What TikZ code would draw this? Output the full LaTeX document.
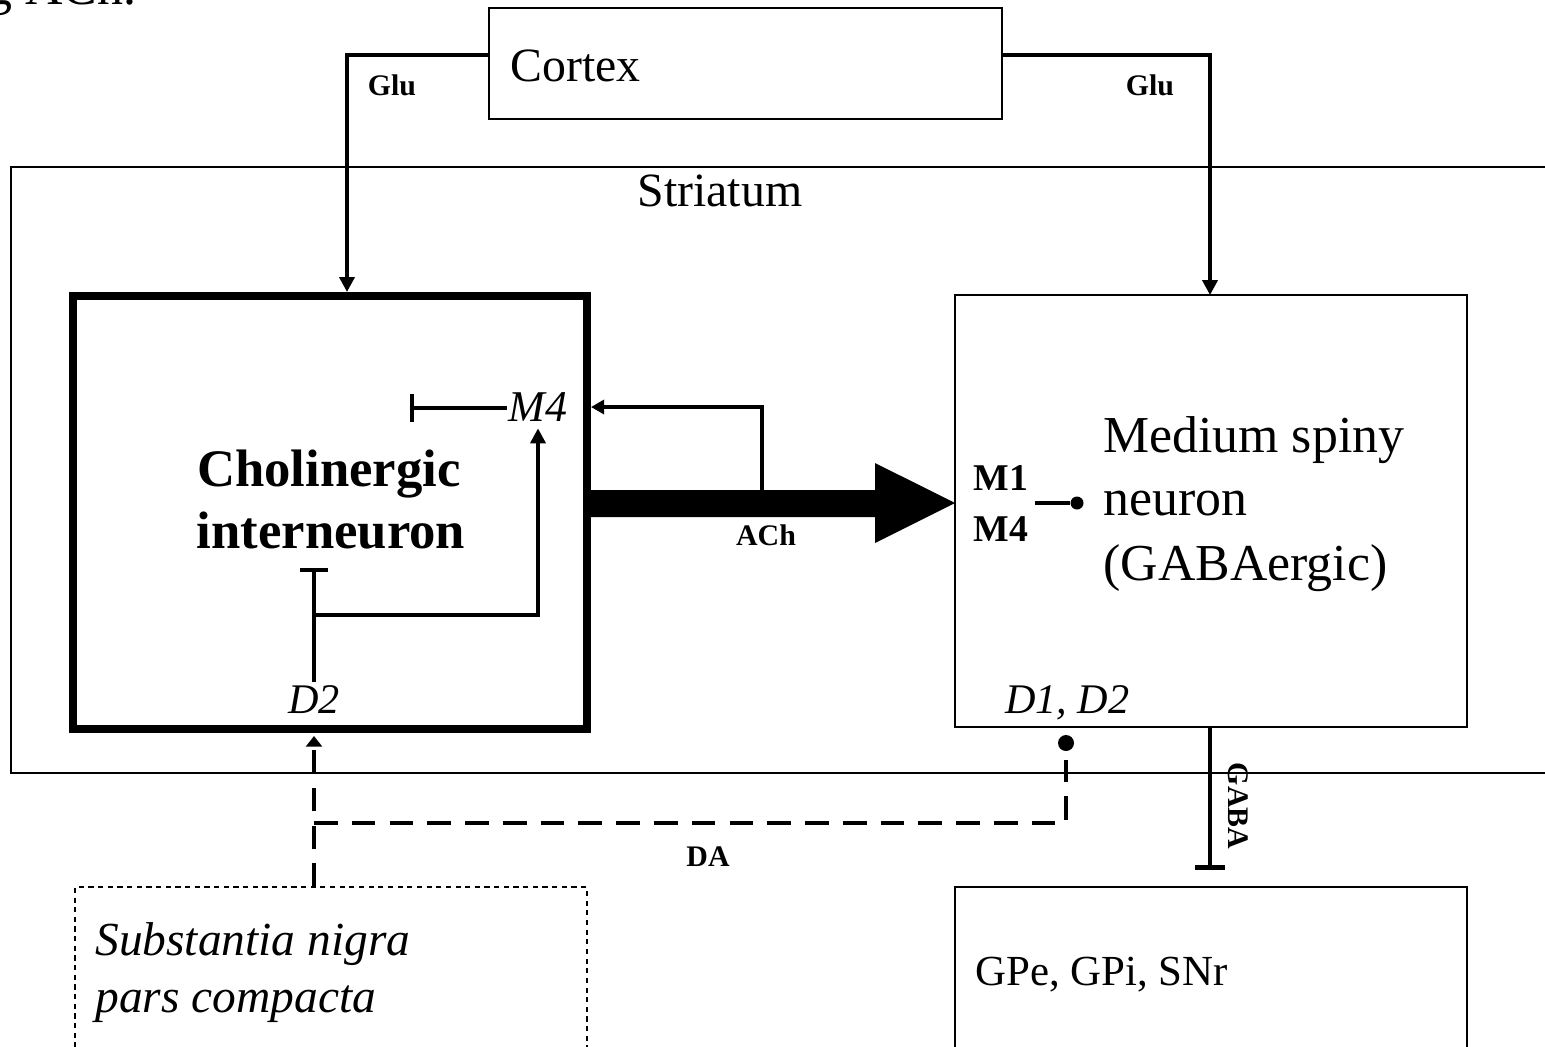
\documentclass[tikz,border=0pt]{standalone}
\usepackage{fontspec}
\setmainfont{Liberation Serif}
\usetikzlibrary{arrows.meta}
\newcommand\fpx[1]{\fontsize{#1}{#1}\selectfont}
\tikzset{
  box/.style={draw, line width=1.1pt, inner sep=0pt, outer sep=0pt},
  conn/.style={line width=2.1pt},
  da/.style={line width=2.8pt, dash pattern=on 13.5pt off 8pt},
  tri/.style={-{Triangle[length=8.5pt,width=8.5pt]}},
  inh/.style={-{Bar[width=16pt,line width=2.4pt]}},
  lbl/.style={inner sep=0pt, anchor=base},
  big/.style={lbl, font=\fpx{27.2pt}},
  small/.style={lbl, font=\fpx{17pt}\bfseries},
}
\begin{document}
\begin{tikzpicture}[x=0.02cm,y=-0.02cm]
\useasboundingbox (0,0) rectangle (1545,1046);
% boxes
\node[box, minimum width=10.26cm, minimum height=2.22cm] (cortex) at (745.5,63.5) {};
\node[box, minimum width=31.18cm, minimum height=12.12cm] (striatum) at (790.5,470) {};
\node[box, line width=4.6pt, minimum width=10.28cm, minimum height=8.66cm, outer sep=2.3pt] (chi) at (330,512.5) {};
\node[box, minimum width=10.24cm, minimum height=8.64cm] (msn) at (1211,511) {};
\node[box, minimum width=10.24cm, minimum height=3.86cm] (gpe) at (1211,983.5) {};
\node[box, line width=0.9pt, dash pattern=on 3pt off 2.5pt, minimum width=10.24cm, minimum height=3.86cm] (snc) at (331,983.5) {};

% texts
\node[lbl, anchor=base west, font=\fpx{29.5pt}] (frag) at (-14,4) {g ACh.};
\node[big, anchor=base west] (cortext) at (510,81) {Cortex};
\node[big] (strtext) at (720,206) {Striatum};
\node[lbl, font=\fpx{30pt}\bfseries] (cho1) at (329,486) {Cholinergic};
\node[lbl, font=\fpx{30pt}\bfseries] (cho2) at (331,548) {interneuron};
\node[lbl, font=\fpx{29.5pt}, anchor=base west] (msn1) at (1103,452) {Medium spiny};
\node[lbl, font=\fpx{29.5pt}, anchor=base west] (msn2) at (1103,515) {neuron};
\node[lbl, font=\fpx{29.5pt}, anchor=base west] (msn3) at (1103,580) {(GABAergic)};
\node[lbl, font=\fpx{25pt}\itshape] (m4) at (538,421) {M4};
\node[lbl, font=\fpx{24pt}\itshape] (d2) at (314,713) {D2};
\node[lbl, font=\fpx{24pt}\itshape, anchor=base west] (d1d2) at (1005,713) {D1, D2};
\node[lbl, font=\fpx{21.5pt}\bfseries, anchor=base west] (m1b) at (973,490) {M1};
\node[lbl, font=\fpx{21.5pt}\bfseries, anchor=base west] (m4b) at (973,541) {M4};
\node[small] (glul) at (392,95) {Glu};
\node[small] (glur) at (1150,95) {Glu};
\node[small] (ach) at (766,545) {ACh};
\node[small] (datext) at (708,866) {DA};
\node[inner sep=0pt, font=\fpx{17pt}\bfseries, rotate=-90] (gaba) at (1238,806) {GABA};
\node[lbl, font=\fpx{24.4pt}, anchor=base west] (gpetext) at (975,985) {GPe, GPi, SNr};
\node[lbl, font=\fpx{27pt}\itshape, anchor=base west] (snc1) at (95,955) {Substantia nigra};
\node[lbl, font=\fpx{27pt}\itshape, anchor=base west] (snc2) at (95,1012) {pars compacta};

% coordinates
\coordinate (fbbase) at (762,490);
\coordinate (m4bar) at (410,408);
\coordinate (d2bar) at (314,568);
\coordinate (d2branch) at (314,615);
\coordinate (dacorner) at (314,823);
\coordinate (daend) at (1066,760);
\coordinate (mline) at (1035,503);
\coordinate (gababar) at (1210,870);
\node[circle, fill, inner sep=0pt, minimum size=0.32cm] (dadot) at (1066,743) {};
\node[circle, fill, inner sep=0pt, minimum size=0.26cm] (mdot) at (1077,503) {};

% Glu inputs
\draw[conn, tri] ([yshift=0.17cm]cortex.west) -| (chi.north -| 347,0);
\draw[conn, tri] ([yshift=0.17cm]cortex.east) -| (msn.north -| 1210,0);

% ACh big arrow
\fill (chi.east |- 0,490) -- (875,490) -- (875,463) -- ([yshift=0.16cm]msn.west) -- (875,543) -- (875,517) -- (chi.east |- 0,517) -- cycle;

% feedback to M4
\draw[conn, -{Triangle[length=7.5pt,width=8pt]}] (fbbase) |- (chi.east |- 0,407);
\draw[conn, inh] ([xshift=-1pt]m4.west |- 0,408) -- (m4bar);

% D2 inputs
\draw[conn, inh] ([yshift=0.06cm]d2.north) -- (d2bar);
\draw[conn, tri] (d2branch) -| ([yshift=-0.14cm]m4.south);

% DA
\draw[da, -{Triangle[length=6pt,width=9pt]}] (snc.north -| 314,0) -- ([yshift=-0.06cm]chi.south -| 314,0);
\draw[da] (dacorner) -| (daend);

% M1/M4 to neuron
\draw[conn] (mline) -- (mdot);

% GABA output
\draw[conn, -{Bar[width=17pt,line width=2.6pt]}] (msn.south -| 1210,0) -- (gababar);
\end{tikzpicture}
\end{document}
